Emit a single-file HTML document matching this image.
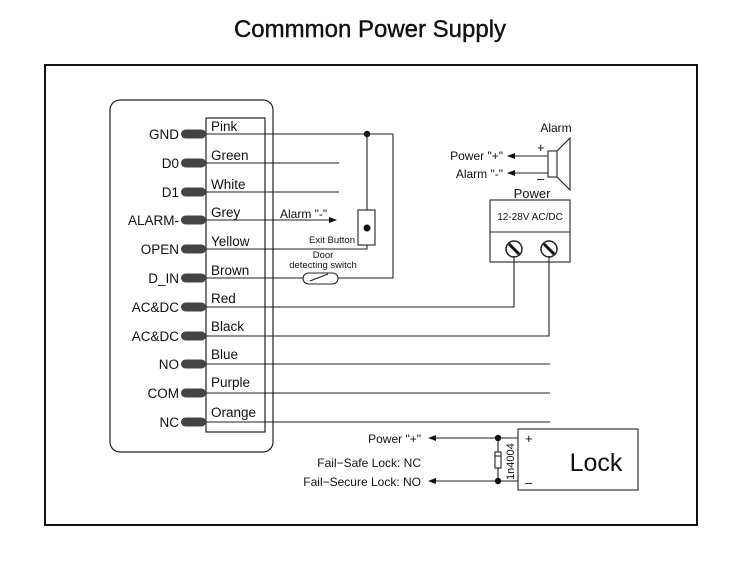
<!DOCTYPE html>
<html><head><meta charset="utf-8"><style>
html,body{margin:0;padding:0;background:#fff;width:735px;height:568px;overflow:hidden}
svg{display:block;font-family:"Liberation Sans",Arial,sans-serif}
</style></head><body>
<svg width="735" height="568" viewBox="0 0 735 568" xmlns="http://www.w3.org/2000/svg">
<defs><marker id="ar" markerWidth="8" markerHeight="6" refX="7" refY="3" orient="auto" markerUnits="userSpaceOnUse"><path d="M0,0 L8,3 L0,6 z" fill="#111"/></marker></defs>
<text x="370" y="37" font-size="24" text-anchor="middle" fill="#111" stroke="#111" stroke-width="0.4">Commmon Power Supply</text>
<rect x="45" y="65" width="652" height="460" fill="none" stroke="#111" stroke-width="2"/>
<rect x="110" y="100" width="163" height="352" rx="10" fill="none" stroke="#222" stroke-width="1.2"/>
<rect x="206" y="118" width="59" height="314" fill="none" stroke="#222" stroke-width="1.2"/>
<g fill="none" stroke="#222" stroke-width="1.1">
<line x1="206" y1="134" x2="393" y2="134"/>
<line x1="206" y1="163" x2="339" y2="163"/>
<line x1="206" y1="192" x2="339" y2="192"/>
<line x1="206" y1="220" x2="336" y2="220" marker-end="url(#ar)"/>
<polyline points="206,249 367,249 367,245"/>
<polyline points="206,278 303,278"/>
<polyline points="338,278 393,278 393,134"/>
<line x1="367" y1="134" x2="367" y2="210"/>
<polyline points="206,307 514,307 514,256"/>
<polyline points="206,336 549,336 549,256"/>
<line x1="206" y1="364" x2="550" y2="364"/>
<line x1="206" y1="393" x2="550" y2="393"/>
<line x1="206" y1="422" x2="550" y2="422"/>
<rect x="358" y="210" width="17" height="35"/>
<rect x="303" y="273" width="35" height="11" rx="5.5"/>
<line x1="310" y1="281" x2="328" y2="274"/>
<rect x="490" y="200" width="80" height="62"/>
<line x1="490" y1="232" x2="570" y2="232"/>
<circle cx="514" cy="249" r="8" stroke-width="1.5"/>
<circle cx="549" cy="249" r="8" stroke-width="1.5"/>
<rect x="548" y="151" width="9" height="26"/>
<polyline points="557,151 570,138 570,190 557,177"/>
<line x1="548" y1="156" x2="508" y2="156" marker-end="url(#ar)"/>
<line x1="548" y1="173" x2="508" y2="173" marker-end="url(#ar)"/>
<rect x="518" y="429" width="120" height="61"/>
<line x1="518" y1="438" x2="429" y2="438" marker-end="url(#ar)"/>
<line x1="518" y1="481" x2="429" y2="481" marker-end="url(#ar)"/>
<line x1="498" y1="438" x2="498" y2="481"/>
<rect x="495" y="452" width="6" height="16" fill="#fff"/>
<line x1="495" y1="456" x2="501" y2="456"/>
</g>
<g stroke="#111" stroke-width="3"><line x1="509" y1="244" x2="519" y2="254"/><line x1="544" y1="244" x2="554" y2="254"/></g>
<g fill="#111"><circle cx="367" cy="134" r="3.2"/><circle cx="367" cy="228" r="3.5"/><circle cx="498" cy="438" r="3.2"/><circle cx="498" cy="481" r="3.2"/></g>
<g fill="#444">
<rect x="181" y="129.5" width="25" height="9" rx="4.5"/><rect x="181" y="158.5" width="25" height="9" rx="4.5"/><rect x="181" y="187.5" width="25" height="9" rx="4.5"/><rect x="181" y="215.5" width="25" height="9" rx="4.5"/><rect x="181" y="244.5" width="25" height="9" rx="4.5"/><rect x="181" y="273.5" width="25" height="9" rx="4.5"/><rect x="181" y="302.5" width="25" height="9" rx="4.5"/><rect x="181" y="331.5" width="25" height="9" rx="4.5"/><rect x="181" y="359.5" width="25" height="9" rx="4.5"/><rect x="181" y="388.5" width="25" height="9" rx="4.5"/><rect x="181" y="417.5" width="25" height="9" rx="4.5"/>
</g>
<g font-size="13.5" fill="#111" text-anchor="end">
<text x="179" y="139">GND</text><text x="179" y="168">D0</text><text x="179" y="197">D1</text><text x="179" y="225">ALARM-</text><text x="179" y="254">OPEN</text><text x="179" y="283">D_IN</text><text x="179" y="312">AC&amp;DC</text><text x="179" y="341">AC&amp;DC</text><text x="179" y="369">NO</text><text x="179" y="398">COM</text><text x="179" y="427">NC</text>
</g>
<g font-size="13.5" fill="#111">
<text x="211" y="131">Pink</text><text x="211" y="160">Green</text><text x="211" y="189">White</text><text x="211" y="217">Grey</text><text x="211" y="246">Yellow</text><text x="211" y="275">Brown</text><text x="211" y="303">Red</text><text x="211" y="331">Black</text><text x="211" y="359">Blue</text><text x="211" y="387">Purple</text><text x="211" y="417">Orange</text>
</g>
<g fill="#111" font-size="12">
<text x="280" y="218">Alarm "-"</text>
<text x="355" y="243" font-size="9.5" text-anchor="end">Exit Button</text>
<text x="323" y="258" font-size="9.5" text-anchor="middle">Door</text>
<text x="323" y="268" font-size="9.5" text-anchor="middle">detecting switch</text>
<text x="532" y="198" font-size="13" text-anchor="middle">Power</text>
<text x="530" y="220" font-size="10" text-anchor="middle">12-28V AC/DC</text>
<text x="556" y="132" text-anchor="middle">Alarm</text>
<text x="537" y="152" font-size="13">+</text>
<text x="537" y="183" font-size="13">–</text>
<text x="503" y="160" text-anchor="end">Power "+"</text>
<text x="503" y="178" text-anchor="end">Alarm "-"</text>
<text x="596" y="471" font-size="25" text-anchor="middle">Lock</text>
<text x="525" y="443" font-size="13">+</text>
<text x="525" y="487" font-size="13">–</text>
<text x="421" y="443" text-anchor="end">Power "+"</text>
<text x="421" y="467" text-anchor="end">Fail−Safe Lock: NC</text>
<text x="421" y="486" text-anchor="end">Fail−Secure Lock: NO</text>
<text transform="translate(514,480) rotate(-90)" font-size="11">1n4004</text>
</g>
</svg>
</body></html>
